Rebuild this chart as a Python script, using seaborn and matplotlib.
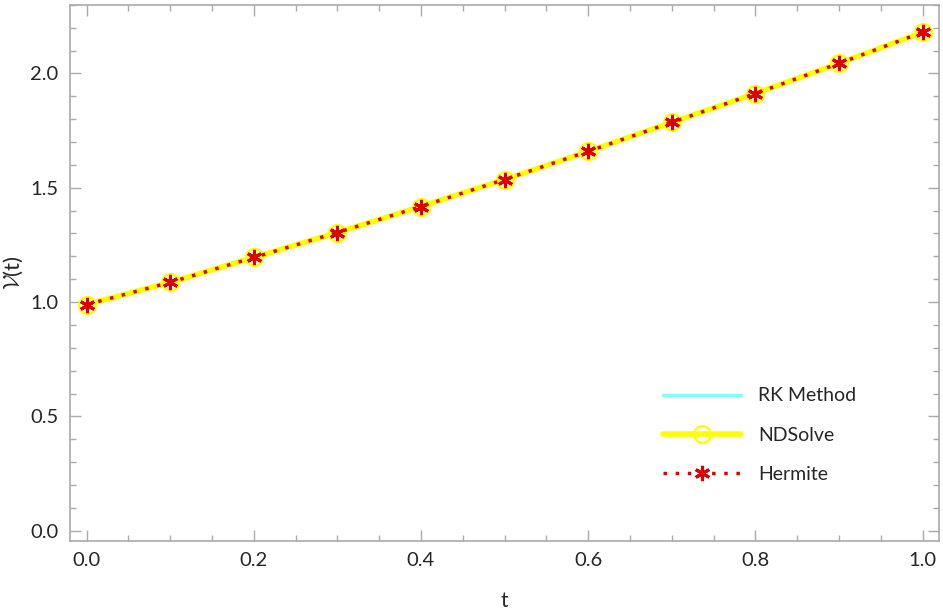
import numpy as np
import pandas as pd
import matplotlib.pyplot as plt
import seaborn as sns
from matplotlib.ticker import MultipleLocator

t = [0.0, 0.1, 0.2, 0.3, 0.4, 0.5, 0.6, 0.7, 0.8, 0.9, 1.0]
rk = [0.989, 1.086, 1.195, 1.304, 1.418, 1.536, 1.659, 1.786, 1.912, 2.044, 2.180]
ndsolve = rk
hermite = rk

sns.set_style("ticks")
plt.rcParams['font.family'] = ['Lato', 'DejaVu Sans']
plt.rcParams['mathtext.fontset'] = 'cm'

fig, ax = plt.subplots(figsize=(9.43, 6.11), dpi=100)

sns.lineplot(x=t, y=rk, ax=ax, color="#80ffff", linewidth=2.5, label="RK Method")
sns.lineplot(x=t, y=ndsolve, ax=ax, color="#ffff00", linewidth=4, marker="o",
             markersize=12, markerfacecolor="none", markeredgecolor="#ffff00",
             markeredgewidth=1.8, label="NDSolve")
sns.lineplot(x=t, y=hermite, ax=ax, color="#dd0000", linewidth=2.5, linestyle=(0, (1, 2.5)),
             marker=(6, 2, 0), markersize=11, markeredgewidth=2.2,
             markeredgecolor="#dd0000", label="Hermite")

ax.set_xlim(-0.02, 1.02)
ax.set_ylim(-0.044, 2.30)
ax.xaxis.set_major_locator(MultipleLocator(0.2))
ax.xaxis.set_minor_locator(MultipleLocator(0.05))
ax.yaxis.set_major_locator(MultipleLocator(0.5))
ax.yaxis.set_minor_locator(MultipleLocator(0.1))
ax.xaxis.set_major_formatter(plt.FormatStrFormatter('%.1f'))
ax.yaxis.set_major_formatter(plt.FormatStrFormatter('%.1f'))
ax.tick_params(which='both', direction='in', top=True, right=True, color='#aaaaaa',
               labelsize=14.5, pad=8)
ax.tick_params(which='major', length=8, width=1)
ax.tick_params(which='minor', length=4, width=1)
for s in ax.spines.values():
    s.set_color('#aaaaaa')
    s.set_linewidth(1.2)

ax.set_xlabel("t", fontsize=15, labelpad=16)
ax.set_ylabel(r"$\mathcal{V}$(t)", fontsize=16, labelpad=4)

leg = ax.legend(loc='lower right', bbox_to_anchor=(0.925, 0.075), frameon=False,
                fontsize=14, handlelength=4.0, labelspacing=1.15, handletextpad=0.9)

plt.subplots_adjust(left=0.074, right=0.996, top=0.992, bottom=0.115)
plt.savefig("out.png", dpi=100)
